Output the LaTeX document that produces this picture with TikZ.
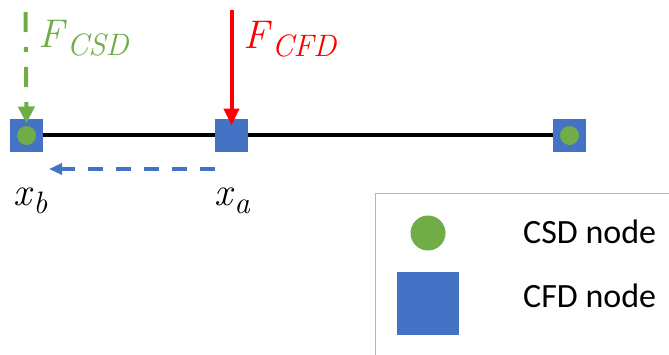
\documentclass[tikz,border=0pt]{standalone}
\usepackage{fontspec}
\setmainfont{Latin Modern Roman}
\newfontfamily\calib{Carlito}
\usetikzlibrary{arrows.meta,backgrounds}
\definecolor{cblue}{RGB}{68,114,196}
\definecolor{cgreen}{RGB}{112,173,71}
\definecolor{cred}{RGB}{255,0,0}
\definecolor{frame}{RGB}{165,185,210}
\newcommand\mysub[2]{\textit{#1}\raisebox{-8pt}{\fontsize{31}{34}\selectfont\textit{#2}}}
\tikzset{
  cfdsq/.style={fill=cblue,draw=none,minimum size=33pt,inner sep=0pt,outer sep=0pt},
  csdcirc/.style={circle,fill=cgreen,draw=none,minimum size=19pt,inner sep=0pt},
  beam/.style={line width=4pt,black},
  forcered/.style={line width=4pt,cred,-{Triangle[length=17pt,width=15pt]}},
  forcegreen/.style={line width=4pt,cgreen,dash pattern=on 20pt off 15pt on 5pt off 15pt,-{Triangle[length=17pt,width=16pt]}},
  mapping/.style={line width=4pt,cblue,dash pattern=on 15.5pt off 12.5pt,-{Triangle[length=13pt,width=11pt]}},
  mathlab/.style={inner sep=0pt,anchor=base west,font=\fontsize{40}{44}\selectfont},
  legtext/.style={inner sep=0pt,anchor=base west,font=\calib\fontsize{34}{40}\selectfont}
}
\begin{document}
\begin{tikzpicture}[x=1pt,y=-1pt]
\useasboundingbox (0,0) rectangle (669,354);
\clip (0,0) rectangle (669,354);
% beam nodes
\node[cfdsq] (sqB) at (26.5,135) {};
\node[cfdsq] (sqA) at (231.5,135) {};
\node[cfdsq] (sqR) at (569.5,135) {};
\node[csdcirc] (cB) at (26.5,135.5) {};
\node[csdcirc] (cR) at (569.5,135.5) {};
\begin{scope}[on background layer]
  \draw[beam] (sqB.center) -- (sqR.center);
\end{scope}
% forces
\coordinate (redtop) at (231.5,10);
\draw[forcered] (redtop) -- ([yshift=-7pt]sqA.north);
\coordinate (greentop) at (25.5,12);
\draw[forcegreen] (greentop) -- ([yshift=-5pt]sqB.north);
\node[mathlab,text=cgreen] (fcsd) at (38,47) {\mysub{F}{CSD}};
\node[mathlab,text=cred] (fcfd) at (243,48) {\mysub{F}{CFD}};
% mapping arrow
\coordinate (mapend) at (49,169);
\draw[mapping] (sqA.west |- mapend) -- (mapend);
% positions
\node[mathlab] (xb) at (13,205) {\mysub{x}{b}};
\node[mathlab] (xa) at (214,205) {\mysub{x}{a}};
% legend
\draw[frame,line width=1pt] (375,193) rectangle (700,380);
\node[csdcirc,minimum size=35pt] (legc) at (428,233) {};
\node[cfdsq,minimum width=62pt,minimum height=63pt] (legs) at (428,303.5) {};
\node[legtext] (legct) at (523,243) {CSD node};
\node[legtext] (legst) at (523,307) {CFD node};
\end{tikzpicture}
\end{document}
